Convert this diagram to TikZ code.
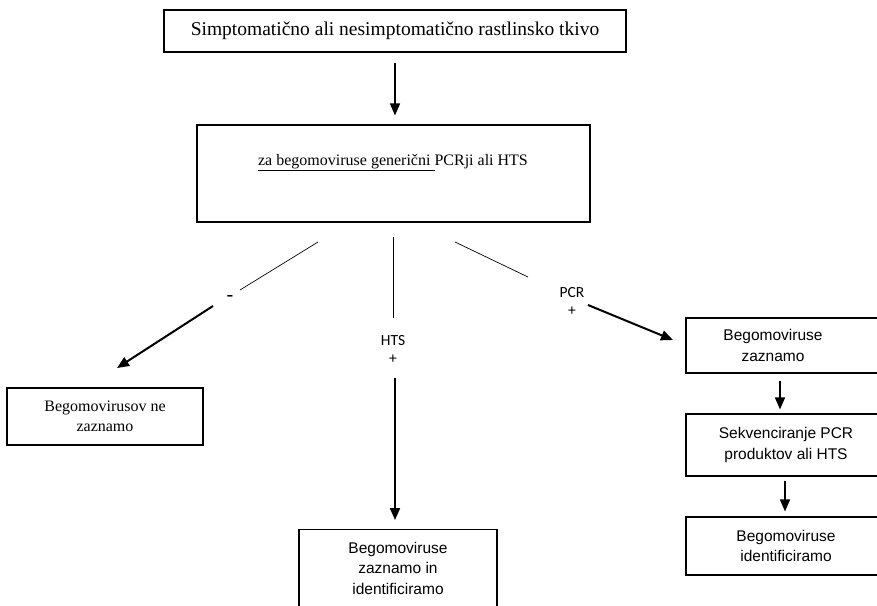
\documentclass[tikz,border=0pt]{standalone}
\usepackage{fontspec}
\setmainfont{Liberation Serif}
\setsansfont{Liberation Sans}
\newfontfamily\calibri{Carlito}
\usetikzlibrary{positioning,arrows.meta}

\begin{document}
\begin{tikzpicture}[
    x=1pt, y=-1pt,
    >={Triangle[length=12pt,width=10pt]},
    every node/.style={align=center, inner sep=0pt},
    box/.style={draw, line width=1.1pt},
    sanstext/.style={font=\sffamily\fontsize{15.5}{20.5}\selectfont},
    sansbox/.style={box, sanstext},
    arr/.style={->, line width=1.5pt},
    thinline/.style={line width=0.7pt},
    tag/.style={font=\calibri\fontsize{15.5}{18}\selectfont}]

    \useasboundingbox (0,0) rectangle (877,605);
    \clip (0,0) rectangle (877,605);

    \node[box, minimum width=462pt, minimum height=42pt, font=\fontsize{19.5}{23}\selectfont] (tissue) at (395,31) {Simptomatično ali nesimptomatično rastlinsko tkivo};
    \node[box, minimum width=393pt, minimum height=97pt] (generic) at (393.5,173.5) {};
    \node[font=\fontsize{16}{20}\selectfont] (generictext) at (393,163) {\underline{za begomoviruse generični\ }PCRji ali HTS};

    \node[box, minimum width=196pt, minimum height=57pt, font=\fontsize{16}{20}\selectfont] (none) at (105,416.5) {Begomovirusov ne\\zaznamo};
    \node[box, anchor=north, minimum width=198pt, minimum height=100pt] (both) at (398,529) {};
    \node[sanstext] (bothtext) at (398,568) {Begomoviruse\\zaznamo in\\identificiramo};

    \node[box, minimum width=200pt, minimum height=55pt] (found) at (786,345.5) {};
    \node[sanstext] (foundtext) at (773,345.5) {Begomoviruse\\zaznamo};
    \node[sansbox, minimum width=200pt, minimum height=62pt] (seq) at (786,445) {Sekvenciranje PCR\\produktov ali HTS};
    \node[sansbox, minimum width=200pt, minimum height=58pt] (ident) at (786,546) {Begomoviruse\\identificiramo};

    \node[tag, font=\calibri\fontsize{22}{22}\selectfont] (minus) at (230,299) {-};
    \node[tag] (hts) at (393,349) {HTS\\+};
    \node[tag] (pcr) at (572,301) {PCR\\+};

    \coordinate (negtop) at (318,242);
    \coordinate (negmid) at (240,290);
    \coordinate (negstart) at (213,306);
    \coordinate (negend) at (117,368);
    \coordinate (htstop) at (393,237);
    \coordinate (htsmid) at (393,318);
    \coordinate (htsstart) at (395,378);
    \coordinate (postop) at (455,242);
    \coordinate (posmid) at (528,277);
    \coordinate (posstart) at (588,305);
    \coordinate (posend) at (673,340);

    \draw[arr, shorten <=10pt, shorten >=9pt] (tissue) -- (tissue |- generic.north);

    \draw[thinline] (negtop) -- (negmid);
    \draw[arr, line width=2pt] (negstart) -- (negend);
    \draw[thinline] (htstop) -- (htsmid);
    \draw[arr, line width=2pt, shorten >=9pt] (htsstart) -- (htsstart |- both.north);
    \draw[thinline] (postop) -- (posmid);
    \draw[arr, line width=2pt] (posstart) -- (posend);

    \draw[arr, shorten <=7pt, shorten >=4pt] ([xshift=-6pt]found.south) -- ([xshift=-6pt]seq.north);
    \draw[arr, shorten <=4pt, shorten >=5pt] ([xshift=-1pt]seq.south) -- ([xshift=-1pt]ident.north);

\end{tikzpicture}
\end{document}
